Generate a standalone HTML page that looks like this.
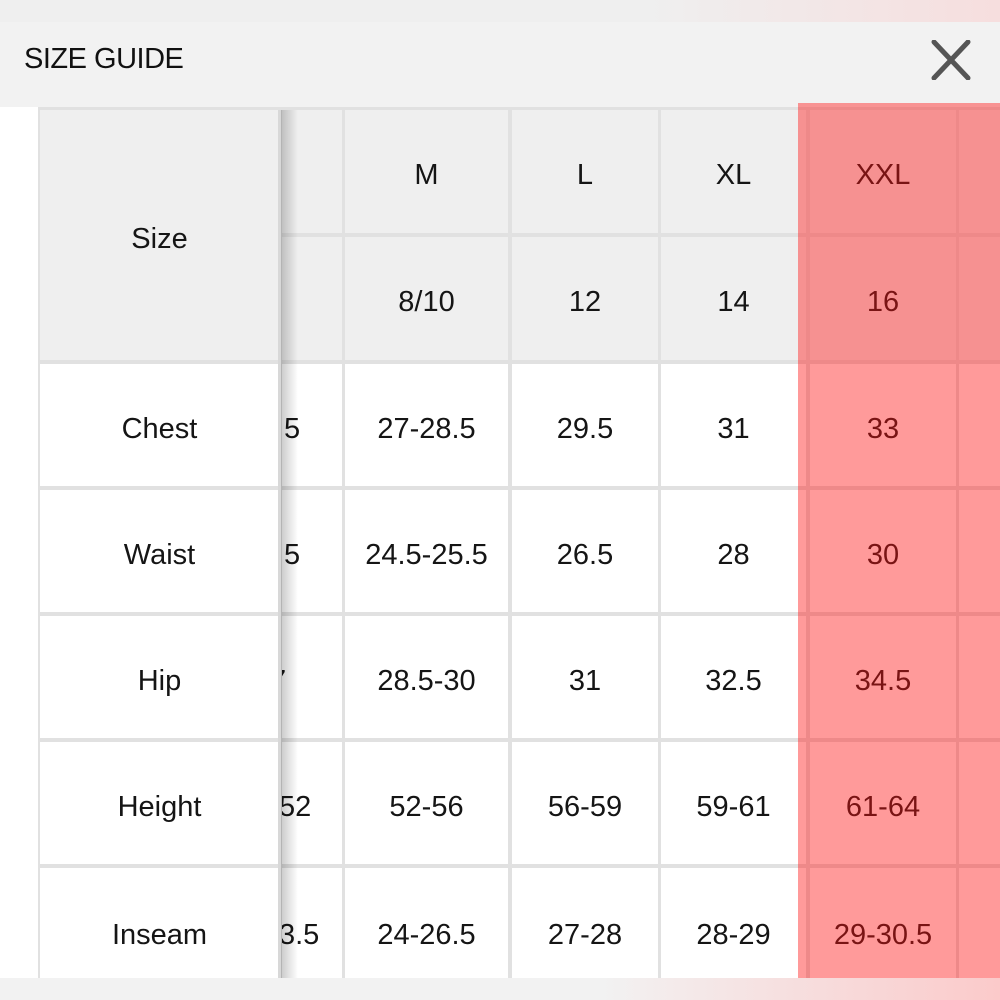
<!DOCTYPE html>
<html><head><meta charset="utf-8"><style>
body{margin:0;width:1000px;height:1000px;position:relative;overflow:hidden;background:#fff;font-family:"Liberation Sans",sans-serif;}
div{position:absolute;box-sizing:border-box;}
.c{display:flex;align-items:center;justify-content:center;font-size:29px;color:#151515;padding-top:8px;}
.h{background:#efefef}.w{background:#fff}
</style></head><body>
<div style="left:0;top:0;width:1000px;height:22px;background:linear-gradient(90deg,#efefef 65%,#f6dede 100%)"></div>
<div style="left:0;top:22px;width:1000px;height:85px;background:#f2f2f2"></div>
<div style="left:24px;top:43px;font-size:29px;color:#111;letter-spacing:-0.5px">SIZE GUIDE</div>
<svg style="position:absolute;left:930px;top:40px" width="42" height="40"><path d="M4 2L38 38M38 2L4 38" stroke="#555" stroke-width="5" stroke-linecap="round"/></svg>
<div style="left:38px;top:107px;width:962px;height:871px;background:#e1e1e1"></div>
<div style="left:0;top:978px;width:1000px;height:22px;background:linear-gradient(90deg,#f2f2f2 60%,#fbcaca 100%)"></div>
<!-- header rows -->
<div class="c h" style="left:40px;top:110px;width:239px;height:250px">Size</div>
<div class="c h" style="left:282px;top:110px;width:60px;height:123px"></div>
<div class="c h" style="left:345px;top:110px;width:163px;height:123px">M</div>
<div class="c h" style="left:512px;top:110px;width:146px;height:123px">L</div>
<div class="c h" style="left:661px;top:110px;width:145px;height:123px">XL</div>
<div class="c h" style="left:810px;top:110px;width:146px;height:123px">XXL</div>
<div class="c h" style="left:959px;top:110px;width:41px;height:123px"></div>
<div class="c h" style="left:282px;top:237px;width:60px;height:123px"></div>
<div class="c h" style="left:345px;top:237px;width:163px;height:123px">8/10</div>
<div class="c h" style="left:512px;top:237px;width:146px;height:123px">12</div>
<div class="c h" style="left:661px;top:237px;width:145px;height:123px">14</div>
<div class="c h" style="left:810px;top:237px;width:146px;height:123px">16</div>
<div class="c h" style="left:959px;top:237px;width:41px;height:123px"></div>
<!-- body rows -->
<div class="c w" style="left:40px;top:364px;width:239px;height:122px">Chest</div>
<div class="c w" style="left:282px;top:364px;width:60px;height:122px;justify-content:flex-start;overflow:hidden"><span style="margin-left:2px">5</span></div>
<div class="c w" style="left:345px;top:364px;width:163px;height:122px">27-28.5</div>
<div class="c w" style="left:512px;top:364px;width:146px;height:122px">29.5</div>
<div class="c w" style="left:661px;top:364px;width:145px;height:122px">31</div>
<div class="c w" style="left:810px;top:364px;width:146px;height:122px">33</div>
<div class="c w" style="left:959px;top:364px;width:41px;height:122px"></div>

<div class="c w" style="left:40px;top:490px;width:239px;height:122px">Waist</div>
<div class="c w" style="left:282px;top:490px;width:60px;height:122px;justify-content:flex-start;overflow:hidden"><span style="margin-left:2px">5</span></div>
<div class="c w" style="left:345px;top:490px;width:163px;height:122px">24.5-25.5</div>
<div class="c w" style="left:512px;top:490px;width:146px;height:122px">26.5</div>
<div class="c w" style="left:661px;top:490px;width:145px;height:122px">28</div>
<div class="c w" style="left:810px;top:490px;width:146px;height:122px">30</div>
<div class="c w" style="left:959px;top:490px;width:41px;height:122px"></div>

<div class="c w" style="left:40px;top:616px;width:239px;height:122px">Hip</div>
<div class="c w" style="left:282px;top:616px;width:60px;height:122px;justify-content:flex-start;overflow:hidden"><span style="margin-left:-12px">7</span></div>
<div class="c w" style="left:345px;top:616px;width:163px;height:122px">28.5-30</div>
<div class="c w" style="left:512px;top:616px;width:146px;height:122px">31</div>
<div class="c w" style="left:661px;top:616px;width:145px;height:122px">32.5</div>
<div class="c w" style="left:810px;top:616px;width:146px;height:122px">34.5</div>
<div class="c w" style="left:959px;top:616px;width:41px;height:122px"></div>

<div class="c w" style="left:40px;top:742px;width:239px;height:122px">Height</div>
<div class="c w" style="left:282px;top:742px;width:60px;height:122px;justify-content:flex-start;overflow:hidden"><span style="margin-left:-3px">52</span></div>
<div class="c w" style="left:345px;top:742px;width:163px;height:122px">52-56</div>
<div class="c w" style="left:512px;top:742px;width:146px;height:122px">56-59</div>
<div class="c w" style="left:661px;top:742px;width:145px;height:122px">59-61</div>
<div class="c w" style="left:810px;top:742px;width:146px;height:122px">61-64</div>
<div class="c w" style="left:959px;top:742px;width:41px;height:122px"></div>

<div class="c w" style="left:40px;top:868px;width:239px;height:110px;padding-top:24px">Inseam</div>
<div class="c w" style="left:282px;top:868px;width:60px;height:110px;justify-content:flex-start;overflow:hidden;padding-top:24px"><span style="margin-left:-3px">3.5</span></div>
<div class="c w" style="left:345px;top:868px;width:163px;height:110px;padding-top:24px">24-26.5</div>
<div class="c w" style="left:512px;top:868px;width:146px;height:110px;padding-top:24px">27-28</div>
<div class="c w" style="left:661px;top:868px;width:145px;height:110px;padding-top:24px">28-29</div>
<div class="c w" style="left:810px;top:868px;width:146px;height:110px;padding-top:24px">29-30.5</div>
<div class="c w" style="left:959px;top:868px;width:41px;height:110px"></div>
<!-- shadow -->
<div style="left:280px;top:110px;width:18px;height:868px;background:linear-gradient(90deg,rgba(0,0,0,0.22),rgba(0,0,0,0))"></div>
<div style="left:278px;top:110px;width:3px;height:868px;background:#d8d8d8"></div>
<!-- red overlay -->
<div style="left:798px;top:103px;width:202px;height:875px;background:rgba(255,20,20,0.43)"></div>
</body></html>
